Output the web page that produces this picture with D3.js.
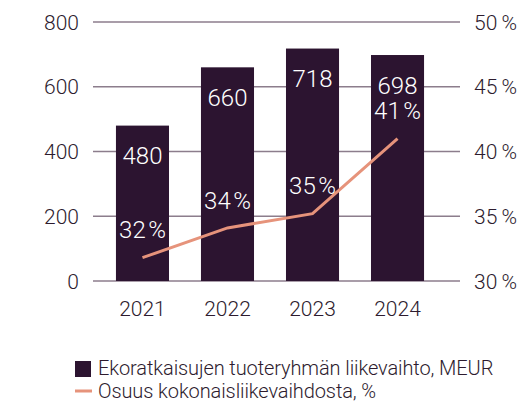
<!DOCTYPE html>
<html>
<head>
<meta charset="utf-8">
<script src="https://cdn.jsdelivr.net/npm/d3@7"></script>
<style>
  body { margin: 0; background: #fff; }
  svg text { font-family: Roboto, "Noto Sans", sans-serif; font-weight: 300; fill: #2d1b2e; }
</style>
</head>
<body>
<div id="chart"></div>
<script>
var years = ["2021", "2022", "2023", "2024"];
var revenue = [480, 660, 718, 698];
var share = [31.8, 34.1, 35.2, 41.0];
var shareLabels = ["32\u200A%", "34\u200A%", "35\u200A%", "41\u200A%"];
var leftTicks = [0, 200, 400, 600, 800];
var rightTicks = [30, 35, 40, 45, 50];
var legendLabels = ["Ekoratkaisujen tuoteryhmän liikevaihto, MEUR", "Osuus kokonaisliikevaihdosta, %"];

var barColor = "#2c1430",
    lineColor = "#e6937b",
    gridColor = "#8c7d8c";

var width = 529, height = 403;

var svg = d3.select("#chart")
    .append("svg")
    .attr("width", width)
    .attr("height", height);

var xScale = d3.scaleBand()
    .domain(years)
    .range([93, 447])
    .paddingInner(0.376)
    .paddingOuter(0.27);

var yLeft = d3.scaleLinear().domain([0, 800]).range([281, 22]);
var yRight = d3.scaleLinear().domain([30, 50]).range([281, 22]);

// grid lines
svg.append("g")
    .selectAll("line")
    .data(leftTicks)
    .enter()
    .append("line")
    .attr("x1", 93)
    .attr("x2", 460)
    .attr("y1", function (d) { return yLeft(d); })
    .attr("y2", function (d) { return yLeft(d); })
    .style("stroke", gridColor)
    .style("stroke-width", 1.5);

// left axis labels
svg.append("g")
    .selectAll("text")
    .data(leftTicks)
    .enter()
    .append("text")
    .attr("x", 79)
    .attr("y", function (d) { return yLeft(d); })
    .attr("dy", "0.36em")
    .attr("text-anchor", "end")
    .style("font-size", "21px")
    .text(function (d) { return d; });

// right axis labels
svg.append("g")
    .selectAll("text")
    .data(rightTicks)
    .enter()
    .append("text")
    .attr("x", 474)
    .attr("y", function (d) { return yRight(d); })
    .attr("dy", "0.36em")
    .style("font-size", "21px")
    .text(function (d) { return d + "\u2009%"; });

// x labels
svg.append("g")
    .selectAll("text")
    .data(years)
    .enter()
    .append("text")
    .attr("x", function (d) { return xScale(d) + xScale.bandwidth() / 2; })
    .attr("y", 308)
    .attr("dy", "0.36em")
    .attr("text-anchor", "middle")
    .style("font-size", "21px")
    .text(function (d) { return d; });

// bars
svg.append("g")
    .selectAll("rect")
    .data(revenue)
    .enter()
    .append("rect")
    .attr("x", function (d, i) { return xScale(years[i]); })
    .attr("y", function (d) { return yLeft(d); })
    .attr("width", xScale.bandwidth())
    .attr("height", function (d) { return yLeft(0) - yLeft(d); })
    .style("fill", barColor);

// bar value labels
svg.append("g")
    .selectAll("text")
    .data(revenue)
    .enter()
    .append("text")
    .attr("x", function (d, i) { return xScale(years[i]) + xScale.bandwidth() / 2; })
    .attr("y", function (d) { return yLeft(d) + 30; })
    .attr("dy", "0.36em")
    .attr("text-anchor", "middle")
    .style("font-size", "24px")
    .style("fill", "#ffffff")
    .text(function (d) { return d; });

// share line
var line = d3.line()
    .x(function (d, i) { return xScale(years[i]) + xScale.bandwidth() / 2; })
    .y(function (d) { return yRight(d); });

svg.append("path")
    .datum(share)
    .attr("d", line)
    .style("fill", "none")
    .style("stroke", lineColor)
    .style("stroke-width", 3);

// share labels
svg.append("g")
    .selectAll("text")
    .data(share)
    .enter()
    .append("text")
    .attr("x", function (d, i) { return xScale(years[i]) + xScale.bandwidth() / 2; })
    .attr("y", function (d) { return yRight(d) - 28; })
    .attr("dy", "0.36em")
    .attr("text-anchor", "middle")
    .style("font-size", "24px")
    .style("fill", "#ffffff")
    .text(function (d, i) { return shareLabels[i]; });

// legend
var legend = svg.append("g");

legend.append("rect")
    .attr("x", 75)
    .attr("y", 361)
    .attr("width", 16)
    .attr("height", 16)
    .style("fill", barColor);

legend.append("line")
    .attr("x1", 75)
    .attr("x2", 92)
    .attr("y1", 391)
    .attr("y2", 391)
    .style("stroke", lineColor)
    .style("stroke-width", 3);

legend.selectAll("text")
    .data(legendLabels)
    .enter()
    .append("text")
    .attr("x", 98)
    .attr("y", function (d, i) { return 368 + i * 23; })
    .attr("dy", "0.36em")
    .style("font-size", "20px")
    .style("letter-spacing", "-0.1px")
    .text(function (d) { return d; });
</script>
</body>
</html>
